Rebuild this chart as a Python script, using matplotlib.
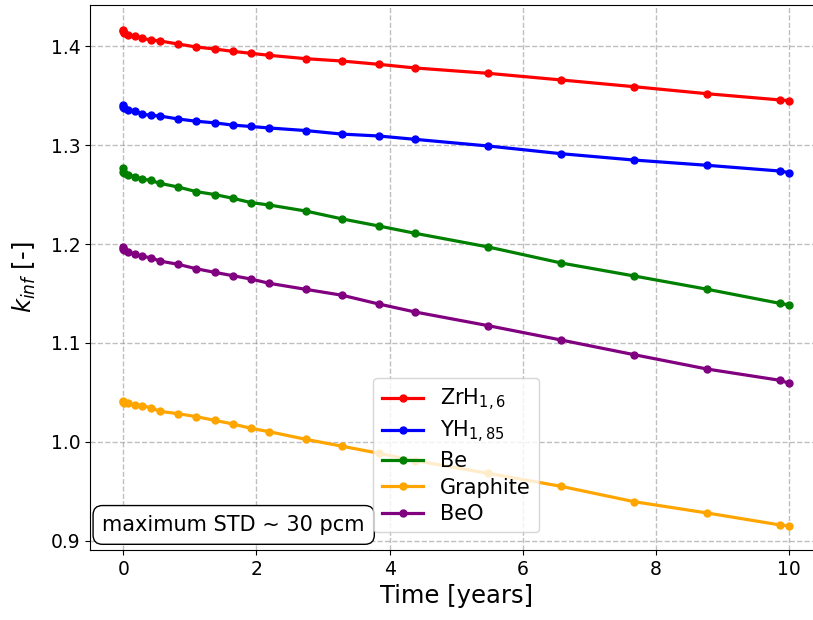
import matplotlib
matplotlib.use("Agg")
import matplotlib.pyplot as plt

# burnup time steps [years]
time_years = [0.0, 0.003, 0.014, 0.068, 0.178, 0.274, 0.411, 0.548, 0.822, 1.096,
              1.370, 1.644, 1.918, 2.192, 2.740, 3.288, 3.836, 4.384, 5.480,
              6.576, 7.671, 8.767, 9.863, 10.0]

k_zrh = [1.4165, 1.4150, 1.4135, 1.4111, 1.4104, 1.4078, 1.4061, 1.4051, 1.4020,
         1.3990, 1.3970, 1.3946, 1.3926, 1.3906, 1.3872, 1.3848, 1.3815, 1.3778,
         1.3724, 1.3657, 1.3589, 1.3518, 1.3455, 1.3448]
k_yh = [1.3400, 1.3385, 1.3370, 1.3354, 1.3347, 1.3313, 1.3300, 1.3293, 1.3263,
        1.3240, 1.3224, 1.3201, 1.3187, 1.3172, 1.3146, 1.3110, 1.3091, 1.3057,
        1.2990, 1.2912, 1.2848, 1.2795, 1.2737, 1.2720]
k_be = [1.2765, 1.2730, 1.2715, 1.2697, 1.2680, 1.2657, 1.2643, 1.2613, 1.2576,
        1.2529, 1.2500, 1.2462, 1.2418, 1.2394, 1.2333, 1.2253, 1.2182, 1.2108,
        1.1970, 1.1808, 1.1677, 1.1543, 1.1400, 1.1384]
k_graphite = [1.0414, 1.0405, 1.0397, 1.0391, 1.0374, 1.0367, 1.0347, 1.0310, 1.0286,
              1.0256, 1.0219, 1.0182, 1.0138, 1.0104, 1.0027, 0.9957, 0.9886, 0.9811,
              0.9683, 0.9552, 0.9397, 0.9283, 0.9162, 0.9152]
k_beo = [1.1965, 1.1950, 1.1935, 1.1916, 1.1896, 1.1876, 1.1862, 1.1828, 1.1795,
         1.1750, 1.1714, 1.1680, 1.1646, 1.1603, 1.1542, 1.1482, 1.1394, 1.1313,
         1.1175, 1.1030, 1.0882, 1.0737, 1.0623, 1.0593]

labels = [r"ZrH$_{1,6}$", r"YH$_{1,85}$", "Be", "Graphite", "BeO"]
colors = ["red", "blue", "green", "orange", "purple"]
series = [k_zrh, k_yh, k_be, k_graphite, k_beo]

fig = plt.figure(figsize=(8.13, 6.2), dpi=100)
ax = fig.add_axes([0.1107, 0.1129, 0.901, 0.879])

for k, lab, c in zip(series, labels, colors):
    ax.plot(time_years, k, "-o", color=c, label=lab, linewidth=2.3, markersize=5)

ax.set_xlim(-0.5, 10.5)
ax.set_ylim(0.8909, 1.4414)
ax.grid(True, linestyle="--", color="gray", alpha=0.5, linewidth=1)
ax.tick_params(labelsize=13.5)
ax.set_xlabel("Time [years]", fontsize=17.5)
ax.set_ylabel(r"$k_{inf}$ [-]", fontsize=17.5, labelpad=9)

ax.legend(loc="lower center", fontsize=15, borderaxespad=0.85, labelspacing=0.3)
ax.text(0.017, 0.035, "maximum STD ~ 30 pcm", transform=ax.transAxes, fontsize=15,
        bbox=dict(boxstyle="round,pad=0.45", facecolor="white", edgecolor="black"))

fig.savefig("out.png", dpi=100)
